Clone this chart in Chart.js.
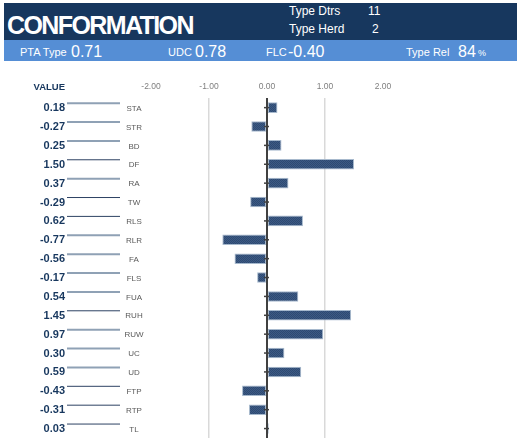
<!DOCTYPE html>
<html>
<head>
<meta charset="utf-8">
<script src="https://cdn.jsdelivr.net/npm/chart.js@4/dist/chart.umd.min.js"></script>
<style>
  body { margin: 0; background: #fff; font-family: "Liberation Sans", Arial, sans-serif; }
  .band { position: absolute; left: 4px; right: 0; }
  #top { top: 3px; height: 37px; background: #17375e; }
  #sub { top: 40px; height: 21px; background: #558ed5; }
  .t { position: absolute; color: #fff; white-space: nowrap; line-height: 1; }
  #chartWrap { position: absolute; left: 0; top: 61px; }
</style>
</head>
<body>
<div class="band" id="top"></div>
<div class="band" id="sub"></div>
<div class="t" style="left:7px;top:13px;font-size:25px;font-weight:bold;letter-spacing:-1.6px;">CONFORMATION</div>
<div class="t" style="left:289px;top:5px;font-size:12px;">Type Dtrs</div>
<div class="t" style="left:368px;top:5px;font-size:12px;">11</div>
<div class="t" style="left:289px;top:23px;font-size:12px;">Type Herd</div>
<div class="t" style="left:372px;top:23px;font-size:12px;">2</div>
<div class="t" style="left:20px;top:47px;font-size:11px;">PTA Type</div>
<div class="t" style="left:71px;top:44px;font-size:16px;">0.71</div>
<div class="t" style="left:168px;top:47px;font-size:11px;">UDC</div>
<div class="t" style="left:195px;top:44px;font-size:16px;">0.78</div>
<div class="t" style="left:266px;top:47px;font-size:11px;">FLC</div>
<div class="t" style="left:288px;top:44px;font-size:16px;">-0.40</div>
<div class="t" style="left:406px;top:47px;font-size:11px;">Type Rel</div>
<div class="t" style="left:458px;top:44px;font-size:16px;">84</div>
<div class="t" style="left:478px;top:49px;font-size:9px;">%</div>

<div id="chartWrap"><canvas id="chart" width="517" height="381"></canvas></div>

<script>
// chart data
const traits = ['STA', 'STR', 'BD', 'DF', 'RA', 'TW', 'RLS', 'RLR', 'FA', 'FLS',
                'FUA', 'RUH', 'RUW', 'UC', 'UD', 'FTP', 'RTP', 'TL'];
const traitValues = [0.18, -0.27, 0.25, 1.50, 0.37, -0.29, 0.62, -0.77, -0.56, -0.17,
                     0.54, 1.45, 0.97, 0.30, 0.59, -0.43, -0.31, 0.03];
const xTicks = [-2, -1, 0, 1, 2];

// underline shade for each row on the left (d = dark, g = grey)
const lineShade = ['g', 'g', 'g', 'd', 'g', 'd', 'd', 'g', 'g', 'g',
                   'g', 'd', 'g', 'g', 'g', 'd', 'd', 'd'];

document.addEventListener("DOMContentLoaded", () => {
    const ctx = document.getElementById('chart').getContext('2d');

    // dotted fill like the original bars
    const tile = document.createElement('canvas');
    tile.width = 2; tile.height = 2;
    const tctx = tile.getContext('2d');
    tctx.fillStyle = '#2e4a72'; tctx.fillRect(0, 0, 2, 2);
    tctx.fillStyle = '#3d5a84'; tctx.fillRect(0, 0, 1, 1); tctx.fillRect(1, 1, 1, 1);
    const barFill = ctx.createPattern(tile, 'repeat');

    const sideLabels = {
        id: 'sideLabels',
        afterDatasetsDraw(chart) {
            const c = chart.ctx;
            const y = chart.scales.y;
            const x0 = chart.scales.x.getPixelForValue(0);
            c.save();
            c.fillStyle = '#17375e';
            c.font = 'bold 9.5px "Liberation Sans", Arial, sans-serif';
            c.textAlign = 'right';
            c.textBaseline = 'middle';
            c.fillText('VALUE', 65, 26);

            traits.forEach((t, i) => {
                const py = y.getPixelForValue(i);
                c.fillStyle = '#17375e';
                c.font = 'bold 11px "Liberation Sans", Arial, sans-serif';
                c.textAlign = 'right';
                c.fillText(traitValues[i].toFixed(2), 65, py + 0.5);

                c.beginPath();
                c.strokeStyle = lineShade[i] === 'd' ? '#2d4263' : '#8fa1b5';
                c.lineWidth = lineShade[i] === 'd' ? 1 : 2;
                c.moveTo(67, py - 4.5);
                c.lineTo(120, py - 4.5);
                c.stroke();

                c.fillStyle = '#595959';
                c.font = '8px "Liberation Sans", Arial, sans-serif';
                c.textAlign = 'center';
                c.fillText(t, 134, py + 1);

                // small tick on the zero axis
                c.beginPath();
                c.strokeStyle = '#404040';
                c.lineWidth = 1.5;
                c.moveTo(x0 - 3, py);
                c.lineTo(x0 + 2, py);
                c.stroke();
            });
            c.restore();
        }
    };

    new Chart(ctx, {
        type: 'bar',
        data: {
            labels: traits,
            datasets: [{
                data: traitValues,
                backgroundColor: barFill,
                borderColor: '#a7b9cd',
                borderWidth: 1,
                borderSkipped: false,
                barPercentage: 0.56,
                categoryPercentage: 1
            }]
        },
        options: {
            indexAxis: 'y',
            responsive: false,
            animation: false,
            layout: { padding: { top: 15, left: 151, right: 134, bottom: 4 } },
            plugins: { legend: { display: false }, tooltip: { enabled: false } },
            scales: {
                x: {
                    position: 'top',
                    min: -2,
                    max: 2,
                    afterBuildTicks: (axis) => { axis.ticks = xTicks.map(v => ({ value: v })); },
                    ticks: {
                        padding: 6,
                        color: '#7f7f7f',
                        font: { size: 8.5, family: '"Liberation Sans", Arial, sans-serif' },
                        callback: (v) => Number(v).toFixed(2)
                    },
                    border: { display: false },
                    grid: {
                        drawTicks: false,
                        color: (c) => c.tick.value === 0 ? '#404040' :
                            (Math.abs(c.tick.value) === 1 ? '#d9d9d9' : 'rgba(0,0,0,0)'),
                        lineWidth: (c) => c.tick.value === 0 ? 2 : 1.5
                    }
                },
                y: {
                    display: false
                }
            }
        },
        plugins: [sideLabels]
    });
});
</script>
</body>
</html>
